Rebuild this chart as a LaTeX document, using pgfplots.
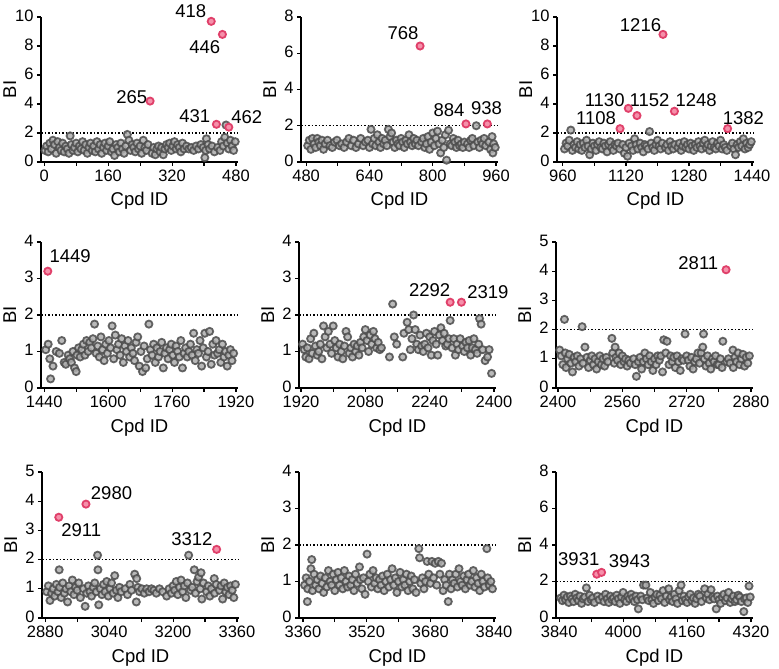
\documentclass[border=0pt]{standalone}
\usepackage{fontspec}
\setmainfont{Liberation Sans}
\usepackage{pgfplots}
\pgfplotsset{compat=1.18}

\definecolor{hitline}{HTML}{E0406A}
\definecolor{hitfill}{HTML}{F590AA}

\pgfplotsset{
  bi/.style={
    scale only axis, width=197bp, height=145bp,
    axis lines=left, axis line style={-, line width=1.3bp},
    ymin=0, clip=false,
    tick align=outside, major tick length=4bp, minor tick length=4bp,
    tick style={black, line width=1.1bp},
    ticklabel style={font=\fontsize{16.5bp}{16.5bp}\selectfont},
    yticklabel style={yshift=1.5bp},
    xticklabel style={yshift=-0.5bp},
    label style={font=\fontsize{18.5bp}{18.5bp}\selectfont},
    /pgf/number format/1000 sep={},
    /pgf/number format/assume math mode=true,
    scaled x ticks=false,
    xlabel={Cpd ID}, ylabel={BI},
    xlabel style={at={(axis description cs:0.5,-0.27)}, anchor=center},
    ylabel style={at={(axis description cs:-0.108,0.5)}, anchor=south},
  },
  grey/.style={only marks, mark=*, mark size=3.6bp,
    mark options={draw=black!70, fill=black!32, line width=1.8bp, opacity=0.85}},
  hit/.style={only marks, mark=*, mark size=3.6bp,
    mark options={draw=hitline, fill=hitfill, line width=1.8bp}},
  cut/.style={black, line width=1.5bp, dash pattern=on 1.5bp off 2bp},
}
\newcommand\lab[3]{\node[font=\fontsize{18.5bp}{18.5bp}\selectfont] at (axis cs:#1,#2) {#3};}

\begin{document}
\begin{tikzpicture}
\useasboundingbox (0,0) rectangle (779bp,669bp);

% ---- row 1 ----
\begin{axis}[bi, at={(41bp,507bp)}, xmin=-8, xmax=485, ymax=10, ytick={0,2,...,10},
  xtick={0,160,320,480}, minor xtick={80,240,400}]
\addplot[cut] coordinates {(-8,2) (485,2)};
\addplot[grey] coordinates {(2,0.8)(6,1.1)(10,0.7)(14,1.3)(18,0.9)(22,1.5)(26,1.2)(30,0.6)(34,1.4)(38,1.0)(42,0.8)(46,1.3)(50,0.7)(54,1.1)(58,0.9)(62,0.6)(65,1.8)(68,1.2)(72,0.8)(76,1.0)(80,1.3)(84,0.7)(88,1.1)(92,0.9)(96,1.4)(100,0.8)(104,1.2)(108,0.6)(112,1.0)(116,1.3)(120,0.8)(124,1.1)(128,0.7)(132,1.4)(136,0.9)(140,1.2)(144,0.6)(148,1.0)(152,1.3)(156,0.8)(160,1.1)(164,1.4)(168,0.7)(172,0.9)(176,0.45)(180,1.2)(184,1.0)(188,0.7)(192,1.3)(196,0.9)(200,0.6)(204,1.1)(208,1.9)(212,1.5)(216,0.8)(220,1.2)(224,1.0)(228,0.7)(232,1.3)(236,0.9)(240,1.1)(244,0.6)(248,1.5)(252,1.0)(256,0.8)(260,1.2)(270,0.6)(274,1.0)(278,0.5)(282,0.9)(286,1.1)(290,0.7)(294,1.0)(298,0.5)(302,0.9)(306,1.2)(310,1.0)(314,1.3)(318,0.8)(322,1.1)(326,1.4)(330,0.9)(334,1.2)(338,1.0)(342,0.7)(346,1.3)(350,0.9)(356,1.1)(362,0.9)(368,1.0)(374,0.8)(380,1.1)(386,0.9)(392,1.2)(398,1.0)(402,0.3)(404,0.8)(406,1.6)(410,1.2)(414,0.9)(420,1.1)(426,0.7)(434,1.0)(440,0.8)(444,1.4)(448,1.1)(452,1.7)(455,2.55)(458,1.3)(462,0.9)(466,1.5)(470,1.1)(474,0.8)(478,1.4)};
\addplot[hit] coordinates {(265,4.2)(418,9.7)(431,2.6)(446,8.8)(462,2.4)};
\lab{367}{10.37}{418} \lab{402}{7.95}{446} \lab{219}{4.5}{265}
\lab{377}{3.17}{431} \lab{507}{3.12}{462}
\end{axis}

\begin{axis}[bi, at={(301bp,507bp)}, xmin=467, xmax=965, ymax=8, ytick={0,2,...,8},
  xtick={480,640,800,960}, minor xtick={560,720,880}]
\addplot[cut] coordinates {(467,2) (965,2)};
\addplot[grey] coordinates {(484,0.9)(488,1.2)(492,0.7)(496,1.3)(500,1.0)(504,0.8)(508,1.3)(512,1.1)(516,0.9)(520,1.2)(524,0.7)(528,1.0)(534,1.2)(540,0.9)(546,0.8)(552,1.1)(558,1.2)(564,0.9)(570,1.0)(576,0.8)(582,1.1)(588,1.3)(594,0.9)(600,1.2)(606,0.8)(612,1.0)(618,1.3)(624,0.9)(630,1.1)(636,1.2)(640,0.8)(644,1.8)(648,1.0)(652,1.3)(656,0.9)(660,1.5)(664,1.1)(668,0.8)(672,1.3)(676,1.0)(680,1.2)(684,0.9)(688,1.8)(692,1.4)(696,1.6)(700,1.1)(704,0.8)(708,1.2)(712,1.0)(716,0.9)(720,1.3)(724,1.1)(728,0.8)(732,1.2)(736,1.0)(740,1.5)(744,1.1)(748,0.9)(752,1.3)(756,1.0)(760,1.2)(764,0.9)(772,1.1)(776,1.3)(780,0.8)(784,1.0)(788,1.4)(792,0.7)(796,1.1)(800,1.6)(804,0.9)(808,1.3)(812,1.7)(816,1.0)(820,0.5)(824,1.2)(828,0.8)(832,1.5)(835,0.1)(840,1.75)(844,1.0)(848,0.9)(852,1.3)(856,1.1)(860,0.8)(864,1.2)(868,0.9)(872,1.0)(876,0.8)(880,1.1)(888,1.0)(892,0.8)(896,1.2)(900,1.3)(904,0.9)(910,2.0)(914,1.1)(918,0.8)(922,1.2)(926,1.0)(930,1.3)(934,0.9)(942,1.1)(946,0.7)(950,1.4)(952,0.5)(954,1.0)(958,0.8)};
\addplot[hit] coordinates {(768,6.4)(884,2.1)(938,2.1)};
\lab{725}{7.1}{768} \lab{841}{2.87}{884} \lab{936}{2.96}{938}
\end{axis}

\begin{axis}[bi, at={(557bp,507bp)}, xmin=945, xmax=1445, ymax=10, ytick={0,2,...,10},
  xtick={960,1120,1280,1440}, minor xtick={1040,1200,1360}]
\addplot[cut] coordinates {(945,2) (1445,2)};
\addplot[grey] coordinates {(964,0.9)(968,1.3)(972,1.1)(976,1.5)(980,2.2)(984,0.8)(988,1.2)(992,1.0)(996,1.4)(1000,0.9)(1004,1.2)(1008,0.8)(1012,1.3)(1016,1.0)(1020,1.5)(1024,1.1)(1028,0.5)(1032,0.9)(1036,1.3)(1040,1.1)(1044,0.8)(1048,1.2)(1052,1.4)(1056,1.0)(1060,0.9)(1064,1.3)(1068,1.1)(1072,0.7)(1076,1.2)(1080,1.4)(1084,1.0)(1088,0.8)(1092,1.2)(1096,1.1)(1100,1.3)(1104,0.9)(1112,1.2)(1116,0.6)(1120,1.0)(1124,0.4)(1128,1.3)(1134,1.1)(1138,0.8)(1142,1.6)(1146,1.2)(1150,0.9)(1156,1.3)(1160,1.0)(1164,0.7)(1168,1.2)(1172,1.1)(1176,0.9)(1180,2.1)(1184,1.3)(1188,1.0)(1192,0.8)(1196,1.2)(1200,1.5)(1204,1.1)(1208,0.9)(1212,1.3)(1220,1.0)(1224,1.2)(1228,0.8)(1232,1.4)(1236,1.1)(1240,0.9)(1244,1.2)(1252,1.0)(1256,1.3)(1260,0.8)(1264,1.1)(1268,1.4)(1272,1.0)(1276,1.2)(1280,0.9)(1284,1.3)(1288,1.1)(1292,0.8)(1296,1.2)(1300,1.0)(1304,1.4)(1308,1.1)(1312,0.9)(1316,1.3)(1320,1.5)(1324,1.0)(1328,1.2)(1332,0.8)(1336,1.1)(1340,1.4)(1344,1.0)(1348,0.9)(1352,1.3)(1356,1.1)(1360,1.5)(1364,0.9)(1368,1.2)(1372,1.0)(1376,0.8)(1386,1.1)(1390,1.3)(1394,0.9)(1398,0.5)(1402,1.2)(1406,1.0)(1410,1.4)(1414,1.1)(1418,1.6)(1422,0.9)(1426,1.3)(1430,1.0)(1434,1.2)(1438,1.4)};
\addplot[hit] coordinates {(1105,2.3)(1126,3.7)(1148,3.2)(1214,8.8)(1243,3.5)(1378,2.3)};
\lab{1157}{9.45}{1216} \lab{1066}{4.28}{1130} \lab{1180}{4.28}{1152}
\lab{1298}{4.28}{1248} \lab{1044}{3.0}{1108} \lab{1418}{3.0}{1382}
\end{axis}

% ---- row 2 ----
\begin{axis}[bi, height=146bp, at={(41bp,281bp)}, xmin=1432, xmax=1925, ymax=4, ytick={0,1,...,4},
  xtick={1440,1600,1760,1920}, minor xtick={1520,1680,1840}]
\addplot[cut] coordinates {(1432,2) (1925,2)};
\addplot[grey] coordinates {(1444,1.05)(1450,1.2)(1454,0.8)(1456,0.25)(1462,0.6)(1470,1.0)(1478,0.95)(1484,1.3)(1490,0.7)(1494,0.65)(1500,0.9)(1504,0.8)(1508,0.7)(1512,1.0)(1516,0.55)(1520,0.45)(1522,0.9)(1526,1.1)(1530,0.85)(1534,1.05)(1538,1.2)(1542,0.9)(1546,1.3)(1550,1.0)(1554,1.25)(1558,1.1)(1562,1.35)(1566,1.75)(1570,0.95)(1574,1.15)(1578,0.85)(1582,1.4)(1586,1.05)(1590,0.75)(1594,1.2)(1598,0.95)(1602,1.3)(1606,1.1)(1610,1.7)(1614,0.8)(1618,1.45)(1622,1.05)(1626,1.2)(1630,0.9)(1634,1.35)(1638,0.7)(1642,1.15)(1646,1.0)(1650,1.3)(1654,0.85)(1658,1.1)(1662,0.95)(1666,0.75)(1670,1.25)(1674,1.4)(1678,0.6)(1682,1.0)(1686,0.45)(1690,1.15)(1694,0.55)(1698,0.8)(1702,1.75)(1706,1.05)(1710,0.9)(1714,1.2)(1718,0.7)(1722,1.1)(1726,0.85)(1730,1.0)(1734,1.25)(1738,0.55)(1742,0.95)(1746,1.1)(1750,0.8)(1754,1.05)(1758,1.2)(1762,0.9)(1766,0.7)(1770,1.15)(1774,1.0)(1778,0.85)(1782,1.3)(1786,0.55)(1790,0.95)(1794,1.1)(1798,0.85)(1802,1.0)(1806,1.2)(1810,0.9)(1814,1.5)(1818,0.75)(1822,1.05)(1826,0.95)(1830,1.3)(1834,0.6)(1838,1.1)(1842,1.5)(1846,0.85)(1850,1.0)(1854,1.55)(1858,0.65)(1862,1.2)(1866,0.9)(1870,1.3)(1874,0.95)(1878,1.05)(1882,0.7)(1886,1.2)(1890,0.85)(1894,1.0)(1898,0.6)(1902,0.9)(1906,1.05)(1910,0.75)(1914,0.95)};
\addplot[hit] coordinates {(1449,3.2)};
\lab{1505}{3.6}{1449}
\end{axis}

\begin{axis}[bi, height=146bp, at={(299bp,281bp)}, xmin=1915, xmax=2405, ymax=4, ytick={0,1,...,4},
  xtick={1920,2080,2240,2400}, minor xtick={2000,2160,2320}]
\addplot[cut] coordinates {(1915,2) (2405,2)};
\addplot[grey] coordinates {(1924,1.2)(1928,1.05)(1932,0.85)(1936,1.1)(1940,0.8)(1944,1.35)(1948,0.95)(1952,1.5)(1956,1.15)(1960,0.9)(1964,1.0)(1968,1.2)(1972,0.8)(1976,1.7)(1980,1.4)(1984,1.1)(1988,1.55)(1992,1.2)(1996,0.95)(2000,1.7)(2004,1.3)(2008,1.1)(2012,0.85)(2016,1.2)(2020,1.0)(2024,0.8)(2028,1.15)(2032,1.55)(2036,1.4)(2040,0.95)(2044,1.1)(2048,0.85)(2052,1.2)(2056,1.0)(2060,1.15)(2064,0.9)(2068,1.25)(2072,1.1)(2076,1.4)(2080,1.6)(2084,1.3)(2088,1.0)(2092,1.45)(2096,1.2)(2100,1.55)(2104,1.35)(2108,1.1)(2112,1.25)(2116,1.05)(2120,1.1)(2140,0.85)(2148,2.3)(2152,1.4)(2158,1.2)(2173,0.85)(2176,1.5)(2184,1.8)(2188,1.6)(2192,1.05)(2196,1.35)(2200,2.0)(2204,1.6)(2208,1.2)(2212,1.05)(2216,1.45)(2220,1.15)(2224,1.0)(2228,1.2)(2232,1.5)(2236,1.1)(2240,1.4)(2244,0.9)(2248,1.3)(2252,1.55)(2256,1.2)(2260,0.9)(2264,1.45)(2268,1.65)(2272,1.3)(2276,1.5)(2280,1.15)(2284,1.2)(2288,1.35)(2291,1.85)(2296,1.1)(2300,1.35)(2304,0.9)(2308,1.2)(2312,1.05)(2316,1.35)(2322,1.15)(2326,1.0)(2330,1.25)(2334,1.1)(2338,1.3)(2342,0.9)(2346,1.1)(2350,1.35)(2354,1.05)(2358,0.95)(2362,1.2)(2364,1.9)(2368,1.75)(2372,1.05)(2378,0.75)(2384,0.85)(2388,1.05)(2394,0.4)};
\addplot[hit] coordinates {(2291,2.35)(2319,2.35)};
\lab{2240}{2.68}{2292} \lab{2385}{2.63}{2319}
\end{axis}

\begin{axis}[bi, height=146bp, at={(556bp,281bp)}, xmin=2395, xmax=2885, ymax=5, ytick={0,1,...,5},
  xtick={2400,2560,2720,2880}, minor xtick={2480,2640,2800}]
\addplot[cut] coordinates {(2395,2) (2885,2)};
\addplot[grey] coordinates {(2404,1.3)(2408,1.1)(2412,0.8)(2416,2.35)(2418,1.2)(2420,0.7)(2424,1.0)(2428,1.15)(2432,0.85)(2436,0.55)(2440,1.05)(2444,0.9)(2448,1.1)(2452,0.75)(2456,1.0)(2460,2.1)(2462,0.85)(2467,1.4)(2472,1.05)(2476,0.7)(2480,0.95)(2484,1.1)(2488,0.8)(2492,1.0)(2496,0.65)(2500,0.9)(2504,1.1)(2508,0.8)(2512,1.0)(2516,0.75)(2520,1.05)(2524,0.9)(2534,1.7)(2536,1.2)(2540,0.85)(2542,1.4)(2544,1.05)(2548,0.95)(2552,1.2)(2556,0.8)(2560,1.1)(2564,0.9)(2568,1.0)(2572,0.75)(2576,0.95)(2580,0.85)(2588,1.0)(2592,0.8)(2595,0.4)(2600,0.9)(2604,1.05)(2608,0.65)(2612,0.9)(2616,1.2)(2620,1.0)(2624,0.8)(2628,1.1)(2632,0.9)(2636,0.6)(2640,1.0)(2644,0.8)(2648,1.1)(2652,0.95)(2656,1.1)(2660,0.55)(2663,1.65)(2668,1.2)(2671,1.6)(2676,0.8)(2680,1.1)(2684,0.9)(2688,1.05)(2692,0.7)(2696,1.1)(2700,0.9)(2704,0.6)(2708,1.0)(2712,0.95)(2716,1.85)(2720,1.1)(2724,0.95)(2728,0.75)(2732,1.05)(2736,0.65)(2740,0.9)(2744,1.0)(2748,1.2)(2752,0.85)(2756,1.2)(2760,1.4)(2762,1.85)(2764,1.0)(2768,0.75)(2772,1.1)(2776,0.85)(2780,0.65)(2784,1.0)(2788,0.9)(2792,1.1)(2796,0.8)(2800,0.8)(2804,1.0)(2808,0.7)(2810,1.6)(2820,0.9)(2824,1.0)(2828,0.85)(2835,1.3)(2836,0.7)(2840,1.05)(2844,0.9)(2848,1.2)(2852,0.8)(2856,1.0)(2860,1.15)(2864,0.75)(2868,1.05)(2872,0.85)(2876,1.1)};
\addplot[hit] coordinates {(2818,4.05)};
\lab{2749}{4.26}{2811}
\end{axis}

% ---- row 3 ----
\begin{axis}[bi, height=146bp, at={(42bp,51bp)}, xmin=2872, xmax=3365, ymax=5, ytick={0,1,...,5},
  xtick={2880,3040,3200,3360}, minor xtick={2960,3120,3280}]
\addplot[cut] coordinates {(2872,2) (3365,2)};
\addplot[grey] coordinates {(2884,0.9)(2888,1.1)(2892,0.6)(2896,0.85)(2900,1.0)(2904,0.75)(2908,1.15)(2912,0.9)(2915,1.65)(2916,1.05)(2920,0.7)(2924,1.2)(2928,0.85)(2932,1.0)(2936,0.55)(2940,1.1)(2944,0.9)(2948,1.3)(2952,0.8)(2956,1.05)(2960,0.95)(2964,1.2)(2968,0.7)(2976,1.0)(2980,0.4)(2984,0.85)(2988,1.1)(2992,0.9)(2996,0.75)(3000,1.05)(3004,1.2)(3008,0.9)(3011,2.15)(3012,1.65)(3014,0.45)(3018,1.0)(3022,0.8)(3026,1.15)(3030,0.9)(3034,1.25)(3038,0.75)(3042,1.0)(3046,1.2)(3050,0.85)(3054,1.45)(3058,0.95)(3062,0.7)(3066,1.05)(3070,0.9)(3080,1.0)(3086,0.8)(3092,1.15)(3096,0.95)(3104,1.5)(3108,0.55)(3109,1.35)(3112,1.05)(3116,0.9)(3122,1.0)(3128,0.85)(3134,1.0)(3140,0.9)(3146,1.0)(3152,0.95)(3158,0.85)(3166,1.0)(3174,0.9)(3184,0.75)(3190,1.0)(3196,0.85)(3200,1.1)(3204,0.95)(3208,1.25)(3212,0.8)(3216,1.05)(3220,1.3)(3224,0.9)(3228,1.1)(3232,0.7)(3236,1.2)(3239,2.15)(3244,0.95)(3248,1.05)(3253,1.65)(3256,0.85)(3260,1.25)(3264,1.4)(3268,1.0)(3270,1.55)(3272,0.65)(3276,1.2)(3284,0.9)(3288,1.1)(3292,0.75)(3296,1.0)(3303,1.35)(3304,0.85)(3308,1.15)(3316,0.95)(3320,1.1)(3324,0.65)(3328,1.2)(3332,0.9)(3336,1.05)(3340,0.8)(3344,1.1)(3348,0.95)(3352,0.7)(3356,1.15)};
\addplot[hit] coordinates {(2914,3.45)(2982,3.9)(3309,2.35)};
\lab{3046}{4.27}{2980} \lab{2970}{3.0}{2911} \lab{3247}{2.71}{3312}
\end{axis}

\begin{axis}[bi, height=146bp, at={(299bp,51bp)}, xmin=3350, xmax=3845, ymax=4, ytick={0,1,...,4},
  xtick={3360,3520,3680,3840}, minor xtick={3440,3600,3760}]
\addplot[cut] coordinates {(3350,2) (3845,2)};
\addplot[grey] coordinates {(3364,0.9)(3368,1.1)(3371,0.45)(3372,0.8)(3376,1.0)(3380,1.35)(3382,1.6)(3384,0.75)(3388,1.2)(3392,0.9)(3396,1.05)(3400,0.8)(3404,1.15)(3408,0.95)(3412,0.7)(3416,1.1)(3420,0.85)(3424,1.3)(3428,1.0)(3432,0.9)(3436,1.2)(3440,0.75)(3444,1.05)(3448,1.25)(3452,0.9)(3456,1.1)(3460,0.8)(3464,1.3)(3468,1.0)(3472,0.85)(3476,1.15)(3480,0.9)(3484,1.05)(3488,0.75)(3492,1.2)(3496,0.95)(3502,1.4)(3504,1.05)(3508,0.8)(3512,1.1)(3516,0.65)(3521,1.75)(3524,1.0)(3528,1.2)(3532,0.85)(3536,1.3)(3540,0.95)(3544,1.1)(3548,0.8)(3552,1.05)(3556,0.9)(3560,1.15)(3564,0.75)(3568,1.0)(3572,1.2)(3576,0.85)(3580,1.05)(3584,1.35)(3588,0.9)(3592,1.1)(3596,0.7)(3600,1.0)(3604,1.25)(3608,0.85)(3612,1.05)(3616,0.9)(3620,1.2)(3624,0.75)(3628,1.0)(3632,1.15)(3636,0.8)(3640,1.05)(3644,0.7)(3651,1.9)(3653,1.65)(3656,0.95)(3660,1.1)(3664,0.8)(3668,1.0)(3672,1.55)(3676,1.2)(3680,0.95)(3684,1.55)(3688,1.1)(3692,1.5)(3696,0.9)(3700,1.55)(3704,1.2)(3708,1.5)(3712,0.75)(3716,1.05)(3720,0.9)(3725,0.45)(3728,1.2)(3732,0.8)(3736,1.05)(3740,0.95)(3744,1.2)(3748,0.85)(3752,1.35)(3756,1.0)(3760,0.9)(3764,1.15)(3768,0.8)(3772,1.05)(3776,1.2)(3780,0.9)(3784,1.0)(3788,1.3)(3792,0.85)(3796,1.1)(3800,0.95)(3804,0.75)(3808,1.2)(3812,1.0)(3816,0.85)(3822,1.9)(3824,1.1)(3828,0.9)(3832,1.0)(3836,0.8)};
\end{axis}

\begin{axis}[bi, height=146bp, at={(556bp,51bp)}, xmin=3832, xmax=4325, ymax=8, ytick={0,2,...,8},
  xtick={3840,4000,4160,4320}, minor xtick={3920,4080,4240}]
\addplot[cut] coordinates {(3832,2) (4325,2)};
\addplot[grey] coordinates {(3844,1.1)(3848,0.95)(3852,1.25)(3856,1.0)(3860,1.15)(3864,0.85)(3868,1.2)(3872,1.05)(3876,0.9)(3880,1.3)(3884,1.1)(3888,0.95)(3892,1.2)(3896,0.8)(3900,1.05)(3904,1.15)(3908,1.65)(3912,0.9)(3916,1.25)(3920,1.0)(3924,1.1)(3928,0.85)(3936,1.2)(3940,1.0)(3948,1.15)(3952,0.9)(3956,1.3)(3960,1.05)(3964,0.85)(3968,1.2)(3972,1.0)(3976,1.1)(3980,0.9)(3984,1.25)(3988,1.05)(3992,0.8)(3996,1.15)(4000,1.4)(4004,1.0)(4008,0.9)(4012,1.2)(4016,1.05)(4020,1.3)(4024,1.1)(4028,0.9)(4032,1.2)(4036,1.0)(4038,0.5)(4044,1.2)(4048,1.0)(4051,1.8)(4057,1.8)(4060,1.1)(4064,0.95)(4068,1.4)(4072,1.0)(4076,0.8)(4080,1.15)(4084,1.3)(4088,0.95)(4092,1.25)(4096,1.05)(4100,1.5)(4104,0.85)(4108,1.2)(4114,1.6)(4116,1.0)(4120,1.15)(4124,0.9)(4128,1.3)(4132,1.05)(4136,0.8)(4140,1.5)(4145,1.8)(4148,0.95)(4152,1.2)(4156,1.0)(4160,0.85)(4164,1.15)(4168,1.3)(4172,0.95)(4176,1.1)(4180,0.8)(4184,1.05)(4188,1.3)(4192,1.2)(4196,0.9)(4204,1.6)(4208,1.1)(4212,1.3)(4216,1.0)(4220,1.55)(4224,1.15)(4228,1.05)(4233,0.5)(4236,1.2)(4240,1.0)(4244,0.8)(4248,1.15)(4252,1.3)(4256,0.95)(4260,1.1)(4264,1.4)(4268,0.85)(4272,1.05)(4276,1.2)(4280,0.9)(4284,1.0)(4288,1.25)(4292,1.15)(4296,0.9)(4302,0.35)(4304,1.05)(4308,1.1)(4312,0.85)(4315,1.75)(4318,1.15)};
\addplot[hit] coordinates {(3934,2.4)(3946,2.5)};
\lab{3889}{3.22}{3931} \lab{4016}{3.13}{3943}
\end{axis}
\end{tikzpicture}
\end{document}
